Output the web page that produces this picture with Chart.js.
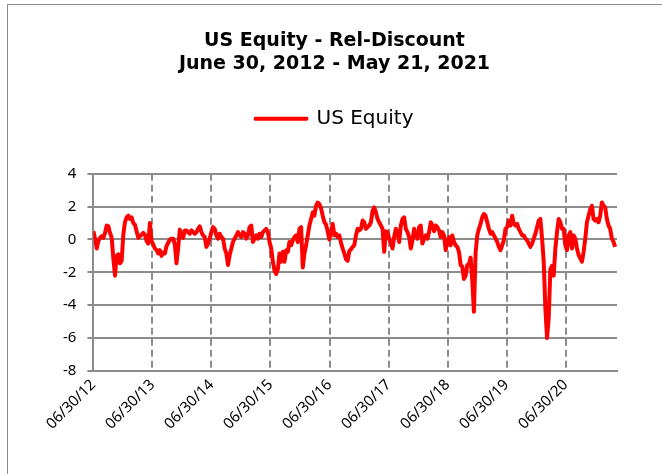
<!DOCTYPE html>
<html>
<head>
<meta charset="UTF-8">
<title>US Equity - Rel-Discount</title>
<style>
    body {
        margin: 0;
        background: #ffffff;
    }
    .wrap {
        position: relative;
        width: 662px;
        height: 474px;
        overflow: hidden;
    }
    .frame {
        position: absolute;
        left: 7px;
        top: 4px;
        width: 660px;
        height: 480px;
        border: 1px solid #8c8c8c;
    }
    canvas {
        position: absolute;
        left: 0;
        top: 0;
    }
</style>
<script src="https://cdn.jsdelivr.net/npm/chart.js"></script>
</head>
<body>
<div class="wrap">
    <div class="frame"></div>
    <canvas id="chart" width="662" height="474"></canvas>
</div>
<script>
    // tick labels of the date axis (one per year, starting 06/30/12)
    const xTickLabels = ['06/30/12', '06/30/13', '06/30/14', '06/30/15', '06/30/16',
                         '06/30/17', '06/30/18', '06/30/19', '06/30/20'];
    const yTicks = [4, 2, 0, -2, -4, -6, -8];

    // about one reading every 10 days
    const stepYears = 0.02815;
    const values = [
        0.5, 0.05, -0.55, -0.1, 0.1, 0.2, 0.1, 0.4, 0.85, 0.8,
        0.4, 0.1, -1.15, -2.2, -1.0, -0.9, -1.45, -1.3, 0.3, 1.05,
        1.35, 1.45, 1.25, 1.35, 1.0, 0.9, 0.5, 0.1, 0.2, 0.3,
        0.4, 0.3, -0.1, -0.25, 1.0, -0.1, -0.3, -0.55, -0.65, -0.85,
        -0.65, -1.0, -0.8, -0.85, -0.4, -0.2,
        0.0, 0.05, 0.05, -0.3, -1.45, -0.5, 0.6, 0.25, 0.1, 0.55,
        0.55, 0.45, 0.35, 0.55, 0.45, 0.35, 0.45, 0.65, 0.8, 0.45,
        0.25, 0.15, -0.45, -0.25, 0.05, 0.45, 0.75, 0.65, 0.25, 0.05,
        0.35, 0.15, 0.05, -0.55, -0.85, -1.55, -0.95, -0.55, -0.15, 0.05,
        0.25, 0.45, 0.25, 0.15, 0.45,
        0.35, 0.05, 0.25, 0.75, 0.85, -0.15, 0.05, 0.25, 0.05, 0.35,
        0.15, 0.45, 0.55, 0.65, 0.45, -0.15, -0.55, -1.35, -1.9, -2.1,
        -1.8, -0.85, -1.35, -0.75, -1.35, -0.65, -0.75, -0.15, -0.35, -0.05,
        0.15, 0.25, -0.15, 0.65, 0.75, -1.7, -0.85, -0.35, 0.25, 0.85,
        1.25, 1.65, 1.45, 2.05, 2.25,
        2.15, 1.9, 1.45, 1.05, 0.9, 0.5, 0.0, 0.45, 0.95, 0.25,
        0.35, 0.15, 0.25, -0.2, -0.55, -0.85, -1.2, -1.3, -0.7, -0.6,
        -0.45, -0.35, 0.25, 0.65, 0.55, 0.65, 1.15, 1.05, 0.65, 0.75,
        0.85, 1.05, 1.75, 1.95, 1.65, 1.25, 1.05, 0.85, 0.65, -0.75,
        0.5, 0.45, 0.05, -0.2, -0.55,
        0.15, 0.65, 0.45, -0.15, 0.85, 1.25, 1.35, 0.65, 0.45, 0.15,
        -0.55, -0.05, 0.65, 0.25, 0.05, 0.75, 0.85, -0.25, 0.05, 0.25,
        0.05, 0.45, 1.05, 0.85, 0.5, 0.85, 0.75, 0.55, 0.15, 0.45,
        0.25, -0.65, -0.15, 0.15, -0.35, 0.25, -0.15, -0.35, -0.45, -0.75,
        -1.55, -1.65, -2.4, -2.2, -1.55,
        -1.5, -1.1, -2.5, -4.4, -0.8, 0.25, 0.65, 0.95, 1.35, 1.55,
        1.45, 1.05, 0.65, 0.35, 0.45, 0.25, 0.05, -0.15, -0.45, -0.65,
        -0.35, -0.05, 0.65, 0.75, 1.15, 0.85, 1.45, 0.95, 0.85, 0.95,
        0.65, 0.45, 0.25, 0.25, 0.05, -0.05, -0.25, -0.45, -0.25, 0.05,
        0.35, 0.75, 1.15,
        1.25, 0.05, -1.35, -4.2, -6.0, -4.8, -1.8, -1.6, -2.2, -0.55,
        0.45, 1.25, 1.05, 0.65, 0.65, -0.35, -0.65, 0.25, 0.45, -0.55,
        0.25, 0.05, -0.55, -0.95, -1.15, -1.35, -0.75, 0.05, 1.05, 1.45,
        1.85, 2.05, 1.25, 1.15, 1.25, 1.05, 1.45, 2.25, 2.05, 1.95,
        1.25, 0.85, 0.65, 0.05, -0.15, -0.45
    ];

    const points = values.map((v, i) => ({ x: i * stepYears, y: v }));
    const gridGray = '#8c8c8c';

    // extra room under the legend
    const legendGap = {
        id: 'legendGap',
        beforeInit(chart) {
            const fit = chart.legend.fit;
            chart.legend.fit = function () {
                fit.bind(chart.legend)();
                this.height += 35;
            };
        }
    };

    const ctx = document.getElementById('chart').getContext('2d');
    new Chart(ctx, {
        type: 'line',
        data: {
            datasets: [{
                label: 'US Equity',
                data: points,
                borderColor: '#ff0000',
                backgroundColor: '#ff0000',
                borderWidth: 4,
                pointRadius: 0,
                tension: 0,
                borderJoinStyle: 'round'
            }]
        },
        options: {
            responsive: false,
            animation: false,
            layout: {
                padding: { left: 52, right: 45, top: 4, bottom: 36 }
            },
            plugins: {
                title: {
                    display: true,
                    text: ['US Equity - Rel-Discount', 'June 30, 2012 - May 21, 2021'],
                    color: '#000000',
                    font: { family: 'DejaVu Sans', size: 19, weight: 'bold', lineHeight: 1.23 },
                    padding: { top: 25, bottom: 23 }
                },
                legend: {
                    display: true,
                    labels: {
                        boxWidth: 51,
                        boxHeight: 0,
                        color: '#000000',
                        font: { family: 'DejaVu Sans', size: 20 },
                        padding: 10
                    }
                },
                tooltip: { enabled: false }
            },
            scales: {
                x: {
                    type: 'linear',
                    min: 0,
                    max: 8.87,
                    afterBuildTicks: axis => {
                        axis.ticks = xTickLabels.map((l, i) => ({ value: i }));
                    },
                    ticks: {
                        autoSkip: false,
                        minRotation: 45,
                        maxRotation: 45,
                        padding: 5,
                        color: '#000000',
                        font: { family: 'Noto Sans', size: 15 },
                        callback: (v, i) => xTickLabels[i]
                    },
                    grid: {
                        color: gridGray,
                        lineWidth: 2,
                        drawTicks: false
                    },
                    border: {
                        color: gridGray,
                        width: 2,
                        dash: [7, 4]
                    }
                },
                y: {
                    min: -8,
                    max: 4,
                    afterBuildTicks: axis => {
                        axis.ticks = yTicks.map(v => ({ value: v }));
                    },
                    ticks: {
                        padding: 11,
                        color: '#000000',
                        font: { family: 'Noto Sans', size: 15 }
                    },
                    grid: {
                        color: gridGray,
                        lineWidth: 2,
                        tickLength: 6
                    },
                    border: {
                        color: gridGray,
                        width: 2
                    }
                }
            }
        },
        plugins: [legendGap]
    });
</script>
</body>
</html>
